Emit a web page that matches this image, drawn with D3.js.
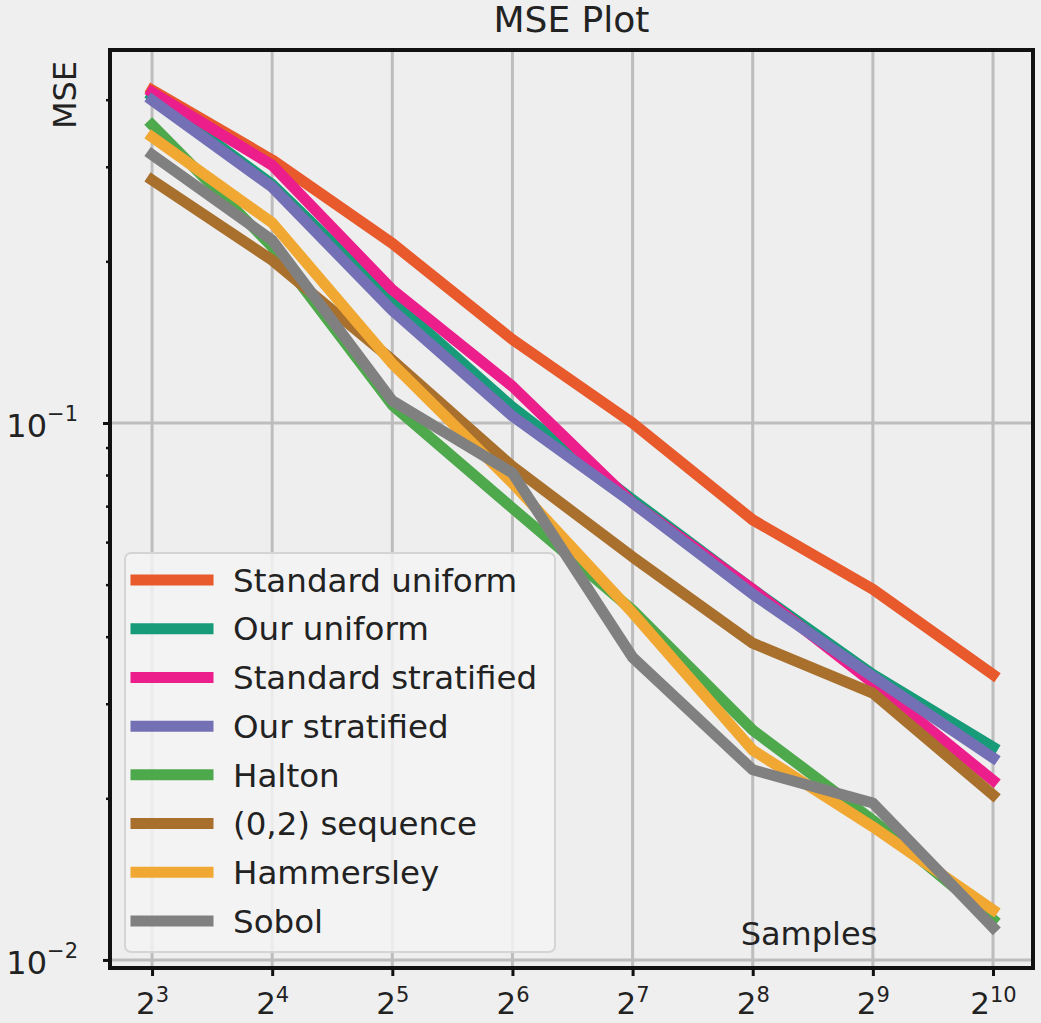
<!DOCTYPE html>
<html>
<head>
<meta charset="utf-8">
<script src="https://cdn.jsdelivr.net/npm/d3@7"></script>
<style>
  html, body { margin: 0; padding: 0; background: #efefef; }
  svg { display: block; font-family: "DejaVu Sans", sans-serif; }
</style>
</head>
<body>
<svg id="chart" width="1041" height="1023"></svg>
<script>
// Sample counts (powers of two) and their exponents for tick labels
const exponents = [3, 4, 5, 6, 7, 8, 9, 10];
const samples = exponents.map(e => Math.pow(2, e));

// Method names, in plotting order
const methods = [
  "Standard uniform", "Our uniform", "Standard stratified", "Our stratified",
  "Halton", "(0,2) sequence", "Hammersley", "Sobol"
];

// MSE per method at each sample count
const standardUniform    = [0.417, 0.309, 0.216, 0.143, 0.100, 0.066, 0.049, 0.034];
const ourUniform         = [0.406, 0.278, 0.169, 0.107, 0.072, 0.049, 0.034, 0.0249];
const standardStratified = [0.413, 0.302, 0.177, 0.117, 0.071, 0.049, 0.0328, 0.0216];
const ourStratified      = [0.399, 0.275, 0.162, 0.103, 0.071, 0.048, 0.0337, 0.0238];
const halton             = [0.359, 0.213, 0.108, 0.0694, 0.0448, 0.0268, 0.0182, 0.0119];
const sequence02         = [0.2835, 0.201, 0.131, 0.083, 0.0563, 0.0389, 0.0314, 0.0203];
const hammersley         = [0.341, 0.236, 0.129, 0.0773, 0.0443, 0.0246, 0.0177, 0.0124];
const sobol              = [0.316, 0.219, 0.110, 0.0807, 0.0366, 0.0226, 0.0196, 0.0115];

const seriesValues = [standardUniform, ourUniform, standardStratified, ourStratified,
                      halton, sequence02, hammersley, sobol];
const colors = ["#e8592b", "#179b78", "#ec1e8c", "#7470b6",
                "#4ea84c", "#a8702c", "#f0a832", "#808080"];

// Y axis ticks
const yMajor = [0.01, 0.1];
const yMajorExp = [-2, -1];
const yMinor = [0.02, 0.03, 0.04, 0.05, 0.06, 0.07, 0.08, 0.09, 0.2, 0.3, 0.4];

const svg = d3.select("#chart");
const L = 110, R = 1033, T = 50, B = 968;

const x = d3.scaleLog().base(2)
  .domain([Math.pow(2, 2.65), Math.pow(2, 10.333)])
  .range([L, R]);
const y = d3.scaleLog()
  .domain([Math.pow(10, -2.015), Math.pow(10, -0.3054)])
  .range([B, T]);

// Plot background
svg.append("rect").attr("x", L).attr("y", T).attr("width", R - L).attr("height", B - T)
  .attr("fill", "#eeeeee");

// Grid
const grid = svg.append("g");
grid.selectAll(".vg").data(samples).join("line")
  .attr("x1", d => x(d)).attr("x2", d => x(d)).attr("y1", T).attr("y2", B)
  .attr("stroke", "#bdbdbd").attr("stroke-width", 3);
grid.selectAll(".hg").data(yMajor).join("line")
  .attr("x1", L).attr("x2", R).attr("y1", d => y(d)).attr("y2", d => y(d))
  .attr("stroke", "#bdbdbd").attr("stroke-width", 3);

// Series lines
const line = d3.line().x((d, i) => x(samples[i])).y(d => y(d));
const plot = svg.append("g");
seriesValues.forEach((vals, k) => {
  plot.append("path").datum(vals)
    .attr("d", line)
    .attr("fill", "none")
    .attr("stroke", colors[k])
    .attr("stroke-width", 11)
    .attr("stroke-linejoin", "round")
    .attr("stroke-linecap", "square");
});

// Spines
svg.append("rect").attr("x", L).attr("y", T).attr("width", R - L).attr("height", B - T)
  .attr("fill", "none").attr("stroke", "#111").attr("stroke-width", 4);

// X axis
const xAxis = svg.append("g").attr("transform", `translate(0,${B})`)
  .call(d3.axisBottom(x).tickValues(samples).tickSize(8).tickPadding(12).tickFormat(() => ""));
xAxis.select(".domain").remove();
xAxis.selectAll(".tick line").attr("stroke", "#111").attr("stroke-width", 3);
xAxis.selectAll(".tick text").each(function(d, i) {
  const t = d3.select(this).attr("font-size", 31).attr("fill", "#222")
    .attr("font-family", "DejaVu Sans, sans-serif").attr("dy", "0.84em")
    .attr("text-anchor", "middle");
  t.append("tspan").text("2");
  t.append("tspan").attr("font-size", 21).attr("dy", "-0.55em").text(exponents[i]);
});

// Y axis (major)
const yAxis = svg.append("g").attr("transform", `translate(${L},0)`)
  .call(d3.axisLeft(y).tickValues(yMajor).tickSize(7).tickPadding(25).tickFormat(() => ""));
yAxis.select(".domain").remove();
yAxis.selectAll(".tick line").attr("stroke", "#111").attr("stroke-width", 3);
yAxis.selectAll(".tick text").each(function(d, i) {
  const t = d3.select(this).attr("font-size", 32).attr("fill", "#222")
    .attr("font-family", "DejaVu Sans, sans-serif").attr("dy", "0.42em");
  t.append("tspan").text("10");
  t.append("tspan").attr("font-size", 21).attr("dy", "-0.75em").text("\u2212" + (-yMajorExp[i]));
});

// Y axis (minor)
const yMinorAxis = svg.append("g").attr("transform", `translate(${L},0)`)
  .call(d3.axisLeft(y).tickValues(yMinor).tickSize(4).tickFormat(() => ""));
yMinorAxis.select(".domain").remove();
yMinorAxis.selectAll(".tick line").attr("stroke", "#111").attr("stroke-width", 2.5);

// Title and axis labels
svg.append("text").attr("x", (L + R) / 2).attr("y", 32).attr("text-anchor", "middle")
  .attr("font-size", 36).attr("fill", "#222").text("MSE Plot");
svg.append("text").attr("transform", "translate(76,95) rotate(-90)").attr("text-anchor", "middle")
  .attr("font-size", 32).attr("fill", "#222").text("MSE");
svg.append("text").attr("x", 809).attr("y", 945).attr("text-anchor", "middle")
  .attr("font-size", 32).attr("fill", "#222").text("Samples");

// Legend
const legend = svg.append("g");
legend.append("rect").attr("x", 125).attr("y", 553).attr("width", 430).attr("height", 399)
  .attr("rx", 6).attr("fill", "#f3f3f3").attr("fill-opacity", 0.85)
  .attr("stroke", "#d4d4d4").attr("stroke-width", 2);
const rowY = d3.scalePoint().domain(methods).range([580, 921]);
methods.forEach((m, k) => {
  legend.append("line").attr("x1", 136).attr("x2", 208)
    .attr("y1", rowY(m)).attr("y2", rowY(m))
    .attr("stroke", colors[k]).attr("stroke-width", 11).attr("stroke-linecap", "square");
  legend.append("text").attr("x", 233).attr("y", rowY(m)).attr("dy", "0.36em")
    .attr("font-size", 32.5).attr("fill", "#222").text(m);
});
</script>
</body>
</html>
